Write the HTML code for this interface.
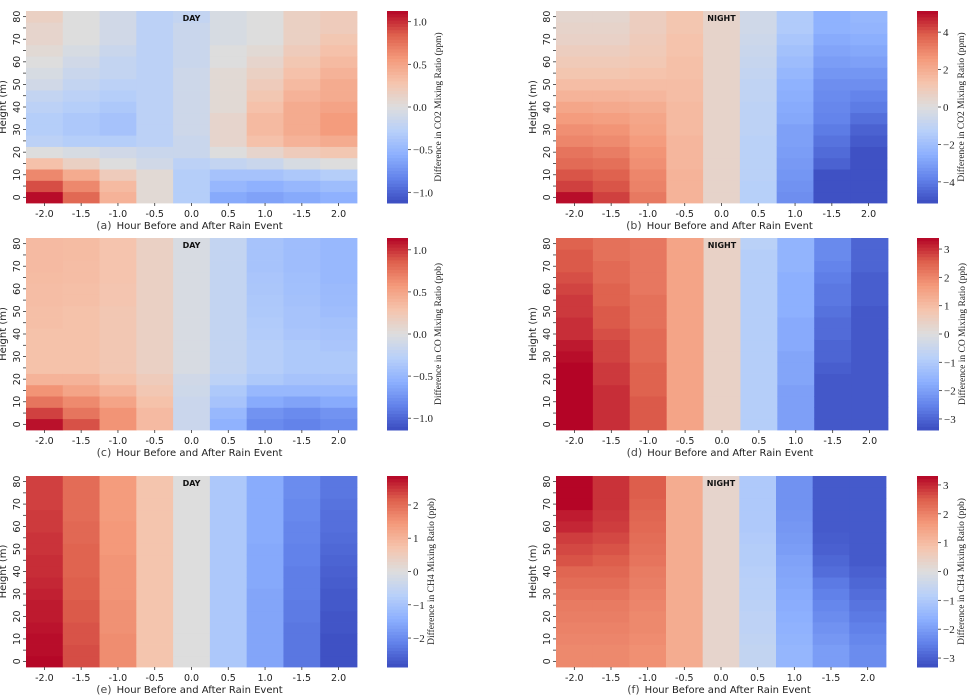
<!DOCTYPE html>
<html><head><meta charset="utf-8">
<style>
html,body{margin:0;padding:0;background:#fff;}
svg{display:block;}
</style></head>
<body>
<svg id="fig" width="968" height="696" viewBox="0 0 968 696" xmlns="http://www.w3.org/2000/svg"></svg>
<script>
// ---- data ----
const xLabels = ["-2.0","-1.5","-1.0","-0.5","0.0","0.5","1.0","-1.5","2.0"];
const heightTicks = [0,10,20,30,40,50,60,70,80];
// panel (a) DAY CO2, rows bottom(0 m) -> top(80 m)
const co2DayRows = [
 [1.1,0.8,0.4,0.05,-0.3,-0.6,-0.65,-0.6,-0.55],
 [0.9,0.65,0.35,0.05,-0.3,-0.5,-0.55,-0.5,-0.45],
 [0.65,0.45,0.2,0.05,-0.3,-0.4,-0.4,-0.35,-0.3],
 [0.3,0.15,0.0,-0.1,-0.25,-0.2,-0.15,-0.05,0.0],
 [0.0,-0.05,-0.1,-0.15,-0.15,0.0,0.1,0.2,0.25],
 [-0.25,-0.3,-0.3,-0.25,-0.15,0.1,0.3,0.4,0.45],
 [-0.3,-0.35,-0.4,-0.25,-0.12,0.1,0.35,0.45,0.55],
 [-0.3,-0.35,-0.4,-0.25,-0.12,0.1,0.35,0.45,0.55],
 [-0.25,-0.3,-0.35,-0.25,-0.12,0.05,0.3,0.45,0.5],
 [-0.2,-0.25,-0.3,-0.25,-0.12,0.05,0.25,0.4,0.45],
 [-0.1,-0.2,-0.25,-0.25,-0.12,0.05,0.2,0.35,0.45],
 [-0.05,-0.15,-0.2,-0.25,-0.12,0.05,0.15,0.3,0.4],
 [0.0,-0.1,-0.2,-0.25,-0.15,0.0,0.1,0.25,0.35],
 [0.05,-0.05,-0.15,-0.25,-0.15,0.0,0.05,0.2,0.3],
 [0.1,0.0,-0.1,-0.25,-0.15,-0.05,0.0,0.15,0.25],
 [0.1,0.0,-0.1,-0.25,-0.15,-0.05,0.0,0.15,0.2],
 [0.15,0.0,-0.1,-0.25,-0.2,-0.05,0.0,0.15,0.2]
];
// panel (b) NIGHT CO2, columns, each bottom -> top
const co2NightCols = [
 [5.0,4.3,4.0,3.6,3.4,3.0,2.8,2.5,2.2,1.8,1.5,1.2,1.0,0.8,0.6,0.5,0.4],
 [4.3,4.0,3.8,3.5,3.2,2.9,2.7,2.4,2.1,1.8,1.5,1.2,1.0,0.8,0.6,0.5,0.4],
 [3.3,3.1,3.0,2.8,2.7,2.5,2.3,2.2,2.0,1.7,1.5,1.3,1.1,1.0,0.9,0.8,0.8],
 [1.8,1.8,1.8,1.7,1.7,1.7,1.6,1.6,1.6,1.5,1.5,1.4,1.4,1.3,1.3,1.2,1.2],
 [0.5,0.5,0.5,0.5,0.5,0.5,0.5,0.5,0.5,0.5,0.5,0.5,0.5,0.5,0.5,0.5,0.5],
 [-1.3,-1.3,-1.2,-1.2,-1.2,-1.2,-1.1,-1.1,-1.1,-1.0,-1.0,-0.9,-0.8,-0.7,-0.6,-0.5,-0.5],
 [-3.5,-3.4,-3.3,-3.2,-3.1,-3.0,-3.0,-2.8,-2.7,-2.6,-2.5,-2.3,-2.1,-1.9,-1.7,-1.5,-1.5],
 [-5.0,-5.0,-5.0,-4.6,-4.4,-4.2,-4.0,-3.8,-3.7,-3.6,-3.5,-3.3,-3.1,-2.9,-2.7,-2.5,-2.5],
 [-5.0,-5.0,-5.0,-5.0,-5.0,-4.8,-4.6,-4.3,-4.0,-3.8,-3.5,-3.3,-3.0,-2.8,-2.6,-2.4,-2.3]
];
// panel (c) DAY CO, rows bottom -> top
const coDayRows = [
 [1.1,0.9,0.6,0.35,-0.15,-0.55,-0.8,-0.85,-0.8],
 [0.95,0.75,0.6,0.35,-0.15,-0.5,-0.75,-0.8,-0.75],
 [0.75,0.65,0.5,0.3,-0.15,-0.4,-0.6,-0.65,-0.6],
 [0.6,0.5,0.4,0.25,-0.12,-0.35,-0.5,-0.5,-0.5],
 [0.4,0.4,0.3,0.2,-0.1,-0.25,-0.35,-0.4,-0.4],
 [0.3,0.3,0.25,0.15,-0.05,-0.2,-0.3,-0.35,-0.35],
 [0.3,0.3,0.25,0.15,-0.05,-0.2,-0.3,-0.35,-0.35],
 [0.3,0.3,0.25,0.15,-0.05,-0.2,-0.3,-0.35,-0.38],
 [0.3,0.3,0.25,0.15,-0.05,-0.2,-0.32,-0.38,-0.4],
 [0.32,0.3,0.25,0.15,-0.05,-0.2,-0.33,-0.4,-0.42],
 [0.32,0.3,0.25,0.15,-0.05,-0.2,-0.35,-0.4,-0.45],
 [0.33,0.32,0.27,0.15,-0.05,-0.2,-0.36,-0.42,-0.47],
 [0.33,0.32,0.27,0.15,-0.05,-0.2,-0.37,-0.43,-0.48],
 [0.34,0.33,0.28,0.15,-0.05,-0.2,-0.38,-0.44,-0.5],
 [0.35,0.33,0.28,0.15,-0.05,-0.2,-0.4,-0.45,-0.5],
 [0.35,0.34,0.28,0.15,-0.05,-0.2,-0.4,-0.45,-0.5],
 [0.35,0.34,0.28,0.15,-0.05,-0.2,-0.4,-0.45,-0.5]
];
// panel (d) NIGHT CO, columns bottom -> top
const coNightCols = [
 [3.4,3.4,3.4,3.4,3.4,3.4,3.3,3.2,3.0,3.0,2.9,2.9,2.8,2.7,2.6,2.6,2.5],
 [3.0,3.0,3.0,3.0,2.9,2.9,2.8,2.8,2.7,2.6,2.6,2.5,2.5,2.4,2.4,2.3,2.3],
 [2.6,2.6,2.6,2.5,2.5,2.5,2.4,2.4,2.4,2.3,2.3,2.3,2.2,2.2,2.2,2.2,2.2],
 [1.5,1.5,1.5,1.5,1.5,1.5,1.5,1.5,1.5,1.5,1.5,1.5,1.5,1.5,1.5,1.5,1.5],
 [0.4,0.4,0.4,0.4,0.4,0.4,0.4,0.4,0.4,0.4,0.4,0.4,0.4,0.4,0.4,0.4,0.4],
 [-0.9,-0.9,-0.9,-0.9,-0.9,-0.9,-0.9,-0.9,-0.9,-0.9,-0.9,-0.9,-0.9,-0.9,-0.9,-0.9,-0.8],
 [-2.0,-2.0,-2.0,-2.0,-1.9,-1.9,-1.9,-1.8,-1.8,-1.8,-1.7,-1.7,-1.7,-1.7,-1.6,-1.6,-1.6],
 [-3.2,-3.2,-3.2,-3.2,-3.2,-3.1,-3.0,-3.0,-2.9,-2.9,-2.8,-2.7,-2.7,-2.6,-2.5,-2.4,-2.4],
 [-3.2,-3.2,-3.2,-3.2,-3.2,-3.2,-3.2,-3.2,-3.2,-3.2,-3.2,-3.1,-3.1,-3.1,-3.0,-3.0,-3.0]
];
// panel (e) DAY CH4, columns bottom -> top
const ch4DayCols = [
 [2.85,2.8,2.8,2.75,2.7,2.7,2.65,2.6,2.55,2.55,2.5,2.5,2.45,2.45,2.4,2.4,2.4],
 [2.3,2.3,2.25,2.25,2.2,2.2,2.15,2.15,2.1,2.1,2.1,2.05,2.05,2.0,2.0,2.0,2.0],
 [1.6,1.6,1.6,1.55,1.55,1.55,1.5,1.5,1.5,1.5,1.45,1.45,1.45,1.4,1.4,1.4,1.4],
 [0.7,0.7,0.7,0.7,0.7,0.7,0.7,0.7,0.7,0.7,0.7,0.7,0.7,0.7,0.7,0.7,0.7],
 [0,0,0,0,0,0,0,0,0,0,0,0,0,0,0,0,0],
 [-0.9,-0.9,-0.9,-0.9,-0.9,-0.9,-0.9,-0.9,-0.9,-0.9,-0.9,-0.9,-0.9,-0.9,-0.9,-0.9,-0.9],
 [-1.6,-1.6,-1.6,-1.6,-1.6,-1.6,-1.6,-1.55,-1.55,-1.55,-1.55,-1.5,-1.5,-1.5,-1.5,-1.5,-1.5],
 [-2.3,-2.3,-2.3,-2.3,-2.25,-2.25,-2.2,-2.2,-2.2,-2.15,-2.15,-2.1,-2.1,-2.05,-2.05,-2.0,-2.0],
 [-2.8,-2.8,-2.8,-2.75,-2.75,-2.7,-2.7,-2.65,-2.6,-2.55,-2.5,-2.45,-2.4,-2.4,-2.35,-2.3,-2.3]
];
// panel (f) NIGHT CH4, columns bottom -> top
const ch4NightCols = [
 [1.9,1.9,1.95,2.0,2.05,2.1,2.2,2.3,2.4,2.6,2.7,2.8,3.0,3.1,3.3,3.3,3.3],
 [1.9,1.9,1.95,2.0,2.05,2.1,2.2,2.3,2.4,2.5,2.6,2.7,2.8,2.85,2.9,2.9,2.9],
 [1.8,1.8,1.85,1.9,1.9,1.95,2.0,2.05,2.1,2.2,2.25,2.3,2.35,2.4,2.45,2.5,2.5],
 [1.3,1.3,1.3,1.3,1.3,1.3,1.3,1.3,1.3,1.3,1.3,1.3,1.3,1.3,1.3,1.3,1.3],
 [0.3,0.3,0.3,0.3,0.3,0.3,0.3,0.3,0.3,0.3,0.3,0.3,0.3,0.3,0.3,0.3,0.3],
 [-0.6,-0.6,-0.65,-0.7,-0.7,-0.75,-0.8,-0.8,-0.85,-0.9,-0.9,-0.95,-1.0,-1.0,-1.0,-1.0,-1.0],
 [-1.5,-1.5,-1.55,-1.6,-1.65,-1.7,-1.75,-1.8,-1.85,-1.9,-2.0,-2.05,-2.1,-2.15,-2.2,-2.2,-2.2],
 [-2.0,-2.0,-2.1,-2.2,-2.3,-2.4,-2.5,-2.6,-2.8,-2.9,-3.0,-3.05,-3.1,-3.1,-3.1,-3.1,-3.1],
 [-2.3,-2.3,-2.4,-2.5,-2.6,-2.7,-2.8,-2.9,-3.0,-3.1,-3.1,-3.1,-3.1,-3.1,-3.1,-3.1,-3.1]
];
const ticksCO2Day = [-1.0,-0.5,0.0,0.5,1.0];
const ticksCO2Night = [-4,-2,0,2,4];
const ticksCODay = [-1.0,-0.5,0.0,0.5,1.0];
const ticksCONight = [-3,-2,-1,0,1,2,3];
const ticksCH4Day = [-2,-1,0,1,2];
const ticksCH4Night = [-3,-2,-1,0,1,2,3];

// ---- helpers ----
function transpose(rows){ return rows[0].map((_,c)=>rows.map(r=>r[c])); }
const CW=[[59,76,192],[98,130,234],[141,176,254],[184,208,249],[221,221,221],[245,196,173],[244,154,123],[222,96,77],[180,4,38]];
function cmap(t){
  t=Math.max(0,Math.min(1,t));const p=t*8,i=Math.min(7,Math.floor(p)),f=p-i;
  const a=CW[i],b=CW[i+1];
  return 'rgb('+a.map((v,k)=>Math.round(v+(b[k]-v)*f)).join(',')+')';
}
const NS='http://www.w3.org/2000/svg';
const svg=document.getElementById('fig');
function el(tag,attrs,parent,text){
  const e=document.createElementNS(NS,tag);
  for(const k in attrs)e.setAttribute(k,attrs[k]);
  if(text!==undefined)e.textContent=text;
  (parent||svg).appendChild(e);return e;
}
function fmt(v,dec){const s=v.toFixed(dec);return v<0?'\u2212'+s.slice(1):s;}

const panels=[
 {id:'a',cols:transpose(co2DayRows),x0:26,x1:357,y0:11,y1:203,cb:387,cbw:21,vmax:1.125,ticks:ticksCO2Day,dec:1,title:'DAY',label:'Difference in CO2 Mixing Ratio (ppm)'},
 {id:'b',cols:co2NightCols,x0:556,x1:887,y0:11,y1:203,cb:917,cbw:21,vmax:5.13,ticks:ticksCO2Night,dec:0,title:'NIGHT',label:'Difference in CO2 Mixing Ratio (ppm)'},
 {id:'c',cols:transpose(coDayRows),x0:26,x1:357,y0:238,y1:430,cb:387,cbw:21,vmax:1.14,ticks:ticksCODay,dec:1,title:'DAY',label:'Difference in CO Mixing Ratio (ppb)'},
 {id:'d',cols:coNightCols,x0:556,x1:888,y0:238,y1:430,cb:917,cbw:22,vmax:3.39,ticks:ticksCONight,dec:0,title:'NIGHT',label:'Difference in CO Mixing Ratio (ppb)'},
 {id:'e',cols:ch4DayCols,x0:26,x1:357,y0:476,y1:667,cb:387,cbw:21,vmax:2.87,ticks:ticksCH4Day,dec:0,title:'DAY',label:'Difference in CH4 Mixing Ratio (ppb)'},
 {id:'f',cols:ch4NightCols,x0:556,x1:886,y0:476,y1:667,cb:917,cbw:21,vmax:3.31,ticks:ticksCH4Night,dec:0,title:'NIGHT',label:'Difference in CH4 Mixing Ratio (ppb)'}
];
const SANS='"DejaVu Sans","Liberation Sans",sans-serif';
const SERIF='"Liberation Serif","DejaVu Serif",serif';

panels.forEach(P=>{
  const g=el('g',{});
  
  
  const nC=P.cols.length,nR=P.cols[0].length;
  const cw=(P.x1-P.x0)/nC,rh=(P.y1-P.y0)/nR;
  const xPos=c=>P.x0+c*cw;
  const yPos=r=>P.y1-(r+1)*rh;
  const col=v=>cmap((v+P.vmax)/(2*P.vmax));
  // cells
  P.cols.forEach((vals,c)=>vals.forEach((v,r)=>{
    const rc=el('rect',{x:xPos(c).toFixed(2),y:yPos(r).toFixed(2),width:(cw+0.4).toFixed(2),height:(rh+0.4).toFixed(2),fill:col(v)},g);
    
    
  }));
  // title
  const t=el('text',{x:(P.x0+P.x1)/2,y:P.y0+10,'text-anchor':'middle','font-family':SANS,'font-size':'8','font-weight':'bold',fill:'#111'},g,P.title);
  
  
  // x ticks
  xLabels.forEach((lab,c)=>{
    const cx=xPos(c)+cw/2;
    el('line',{x1:cx,x2:cx,y1:P.y1,y2:P.y1+3,stroke:'#333','stroke-width':0.8},g);
    const tx=el('text',{x:cx,y:P.y1+14,'text-anchor':'middle','font-family':SANS,'font-size':'9.5',fill:'#222'},g,lab);
    
    
  });
  // y ticks (minor every row, major labelled every 10 m)
  for(let r=0;r<nR;r++){
    const cy=yPos(r)+rh/2;
    el('line',{x1:P.x0-3,x2:P.x0,y1:cy,y2:cy,stroke:'#333','stroke-width':0.8},g);
  }
  heightTicks.forEach(h=>{
    const r=h/5;const cy=yPos(r)+rh/2;const lx=P.x0-6;
    const ty=el('text',{x:lx,y:cy,'text-anchor':'middle','font-family':SANS,'font-size':'9.5',fill:'#222',transform:'rotate(-90 '+lx+' '+cy+')'},g,String(h));
    
    
  });
  const yt=P.x0-20, ym=(P.y0+P.y1)/2;
  const ya=el('text',{x:yt,y:ym,'text-anchor':'middle','font-family':SANS,'font-size':'10',fill:'#222',transform:'rotate(-90 '+yt+' '+ym+')'},g,'Height (m)');
  
  
  // x axis title
  const xa=el('text',{x:(P.x0+P.x1)/2-2,y:P.y1+26,'text-anchor':'middle','font-family':SANS,'font-size':'10',fill:'#222'},g);
  
  
  el('tspan',{'font-size':'11',fill:'#444'},xa,'('+P.id+')');
  el('tspan',{},xa,'\u2002Hour Before and After Rain Event');
  // colorbar
  const cbg=el('g',{},g);
  
  
  const N=60,ch=(P.y1-P.y0)/N;
  for(let i=0;i<N;i++){
    el('rect',{x:P.cb,y:(P.y0+i*ch).toFixed(2),width:P.cbw,height:(ch+0.5).toFixed(2),fill:cmap(1-(i+0.5)/N)},cbg);
  }
  const cbY=v=>P.y1-(v+P.vmax)/(2*P.vmax)*(P.y1-P.y0);
  P.ticks.forEach(v=>{
    const y=cbY(v);
    el('line',{x1:P.cb+P.cbw,x2:P.cb+P.cbw+3,y1:y,y2:y,stroke:'#333','stroke-width':0.8},cbg);
    const tl=el('text',{x:P.cb+P.cbw+5,y:y+4,'font-family':SERIF,'font-size':'11',fill:'#222'},cbg,fmt(v,P.dec));
    
    
  });
  const lx=P.cb+P.cbw+(P.dec?33:26);
  const cl=el('text',{x:lx,y:ym,'text-anchor':'middle','font-family':SERIF,'font-size':'9.5',fill:'#222',transform:'rotate(-90 '+lx+' '+ym+')'},cbg,P.label);
  
  
});
</script>
</body></html>
